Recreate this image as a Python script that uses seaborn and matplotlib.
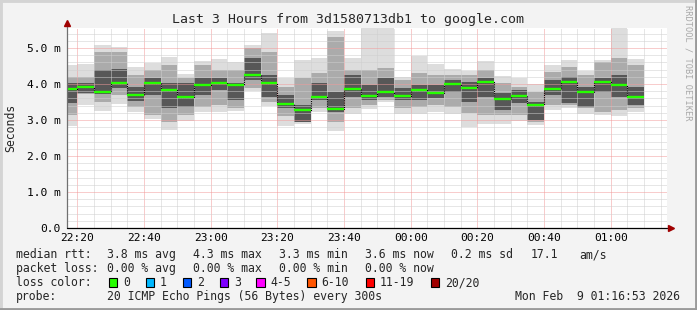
import numpy as np
import pandas as pd
import matplotlib
matplotlib.use("Agg")
import matplotlib.pyplot as plt
import matplotlib.dates as mdates
from matplotlib.lines import Line2D
from matplotlib.patches import Rectangle
import seaborn as sns

# ---- data ----
end_times = pd.date_range("2026-02-08 22:20", periods=35, freq="5min")
median = [3.87, 3.93, 3.78, 4.03, 3.69, 4.03, 3.84, 3.65, 3.97, 4.03,
          3.97, 4.25, 4.03, 3.45, 3.29, 3.64, 3.31, 3.87, 3.68, 3.78,
          3.68, 3.84, 3.75, 4.01, 3.90, 4.06, 3.58, 3.68, 3.42, 3.87,
          4.06, 3.79, 4.06, 3.97, 3.65]
rtt_max = [4.53, 4.56, 5.08, 5.03, 4.48, 4.59, 4.75, 4.27, 4.64, 4.69,
           4.60, 5.08, 5.42, 4.18, 4.67, 4.73, 5.48, 4.71, 5.60, 5.60,
           4.20, 4.79, 4.56, 4.43, 4.36, 4.64, 4.22, 4.16, 4.01, 4.53,
           4.67, 4.36, 4.67, 5.55, 4.69]
rtt_min = [2.84, 3.42, 3.25, 3.44, 3.21, 3.03, 2.72, 2.97, 3.21, 3.21,
           3.25, 3.81, 3.40, 2.84, 2.90, 3.21, 2.69, 3.18, 3.31, 3.51,
           3.16, 3.16, 3.23, 3.18, 2.81, 2.88, 2.90, 2.97, 2.86, 3.28,
           3.32, 3.18, 3.14, 3.12, 3.21]
mid_hi = [4.20, 4.20, 4.90, 4.90, 4.25, 4.39, 4.53, 4.16, 4.53, 4.39,
          4.39, 4.99, 4.90, 3.92, 4.16, 4.30, 5.30, 4.39, 4.39, 4.44,
          4.11, 4.30, 4.25, 4.25, 4.25, 4.39, 4.02, 3.92, 3.79, 4.34,
          4.48, 4.25, 4.62, 4.71, 4.53]
mid_lo = [3.14, 3.72, 3.50, 3.69, 3.37, 3.14, 2.95, 3.14, 3.37, 3.42,
          3.33, 3.88, 3.51, 3.10, 2.99, 3.33, 2.95, 3.33, 3.42, 3.55,
          3.33, 3.37, 3.42, 3.37, 3.19, 3.14, 3.14, 3.14, 2.95, 3.42,
          3.42, 3.33, 3.23, 3.28, 3.33]
core_hi = [4.02, 4.02, 4.39, 4.43, 3.93, 4.16, 4.02, 4.02, 4.16, 4.16,
           4.02, 4.71, 4.25, 3.69, 3.42, 4.02, 3.79, 4.25, 3.97, 4.16,
           3.88, 3.97, 3.97, 4.11, 4.06, 4.16, 3.74, 3.83, 3.51, 4.11,
           4.20, 3.92, 4.16, 4.25, 3.92]
core_lo = [3.47, 3.74, 3.72, 3.88, 3.53, 3.69, 3.33, 3.37, 3.69, 3.83,
           3.55, 4.11, 3.65, 3.33, 2.95, 3.55, 3.21, 3.65, 3.55, 3.65,
           3.55, 3.55, 3.60, 3.79, 3.51, 3.65, 3.28, 3.46, 2.99, 3.69,
           3.46, 3.37, 3.79, 3.65, 3.42]

y_ticks = [0, 1, 2, 3, 4, 5]
y_labels = ["0.0", "1.0 m", "2.0 m", "3.0 m", "4.0 m", "5.0 m"]

title = "Last 3 Hours from 3d1580713db1 to google.com"
loss_labels = ["0", "1", "2", "3", "4-5", "6-10", "11-19", "20/20"]
loss_colors = ["#26ff00", "#00b8ff", "#0059ff", "#7e00ff", "#ff00ff",
               "#ff5500", "#ff0000", "#a10000"]

# ---- style ----
sns.set_style("white")
plt.rcParams["font.family"] = ["DejaVu Sans Mono", "DejaVu Sans"]

W, H = 697, 310
fig = plt.figure(figsize=(W / 100, H / 100), dpi=100, facecolor="#f3f3f3")
ax = fig.add_axes([67 / W, 82 / H, 600 / W, 200 / H])
ax.set_facecolor("white")

starts = mdates.date2num(end_times - pd.Timedelta(minutes=5))
bw = 5 / 1440.0


def band(lo, hi, color):
    lo = np.asarray(lo)
    hi = np.asarray(hi)
    ax.bar(starts, hi - lo, bottom=lo, width=bw, align="edge",
           color=color, linewidth=0, antialiased=False, zorder=1)


band(rtt_min, rtt_max, "#dddddd")
band(mid_lo, mid_hi, "#ababab")
band(core_lo, core_hi, "#575757")

# step connector (dotted black) and green medians
sns.lineplot(x=starts, y=median, drawstyle="steps-post", color="black",
             linestyle=(0, (1, 1)), linewidth=0.8, estimator=None, ax=ax,
             zorder=2.5, legend=False)
ax.hlines(median, starts, starts + bw, color="#26ff00", linewidth=1.7,
          zorder=3)

# ---- axes ----
x0 = mdates.date2num(pd.Timestamp("2026-02-08 22:16:53"))
x1 = mdates.date2num(pd.Timestamp("2026-02-09 01:16:53"))
ax.set_xlim(x0, x1)
ax.set_ylim(0, 5.556)

ax.xaxis.set_major_locator(mdates.MinuteLocator(byminute=[0, 20, 40]))
ax.xaxis.set_minor_locator(mdates.MinuteLocator(byminute=range(0, 60, 5)))
ax.xaxis.set_major_formatter(mdates.DateFormatter("%H:%M"))
ax.set_yticks(y_ticks)
ax.set_yticklabels(y_labels)
ax.set_yticks(np.arange(0, 5.6, 0.2), minor=True)

ax.tick_params(axis="both", which="both", length=0, labelsize=8.1,
               colors="black")
ax.tick_params(axis="x", pad=3.6)
ax.tick_params(axis="y", pad=4.6)

ax.set_axisbelow("line")
ax.grid(which="minor", color="#cfcfcf", linestyle=(0, (1, 1)),
        linewidth=0.72)
ax.grid(which="major", color="#f29a9a", linestyle=(0, (1, 1)),
        linewidth=0.72)

for s in ax.spines.values():
    s.set_visible(False)

# axis lines with arrows
ax.plot([0, 0], [0, 1.03], transform=ax.transAxes, color="#707070",
        linewidth=0.9, clip_on=False, zorder=4)
ax.plot([0, 1.0], [0, 0], transform=ax.transAxes, color="black",
        linewidth=0.9, clip_on=False, zorder=4)
ax.plot([0], [1.025], transform=ax.transAxes, marker="^", markersize=3.8,
        color="#a00000", clip_on=False, zorder=5)
ax.plot([1.006], [0], transform=ax.transAxes, marker=">", markersize=3.8,
        color="#a00000", clip_on=False, zorder=5)

# ---- texts ----
def ftext(xpx, ypx, s, **kw):
    kw.setdefault("fontsize", 8.3)
    kw.setdefault("va", "baseline")
    fig.text(xpx / W, 1 - ypx / H, s, **kw)


ftext(348, 23, title, fontsize=9.5, ha="center")
ftext(11, 128, "Seconds", rotation=90, va="center", ha="center")
ftext(688, 5, "RRDTOOL / TOBI OETIKER", rotation=270, va="top",
      ha="center", fontsize=6.2, color="#a8a8a8")

ftext(16, 258, "median rtt:")
for xp, s in zip([107, 193, 279, 365, 451, 531, 579],
                 ["3.8 ms avg", "4.3 ms max", "3.3 ms min", "3.6 ms now",
                  "0.2 ms sd", "17.1", "am/s"]):
    ftext(xp, 258, s)

ftext(16, 272, "packet loss:")
for xp, s in zip([107, 193, 279, 365],
                 ["0.00 % avg", "0.00 % max", "0.00 % min", "0.00 % now"]):
    ftext(xp, 272, s)

ftext(16, 286, "loss color:")
box_x = [108.5, 145.5, 182.5, 219.5, 256, 307, 365.5, 430.5]
for bx, lab, col in zip(box_x, loss_labels, loss_colors):
    fig.patches.append(Rectangle((bx / W, 1 - 287 / H), 8.5 / W, 9 / H,
                                 transform=fig.transFigure, facecolor=col,
                                 edgecolor="black", linewidth=0.8))
    ftext(bx + 14.5, 286, lab)

ftext(16, 300, "probe:")
ftext(107, 300, "20 ICMP Echo Pings (56 Bytes) every 300s")
ftext(680, 300, "Mon Feb  9 01:16:53 2026", ha="right")

# frame
for (xa, ya, xb, yb, c) in [(0, 1, 1, 1, "#d4d4d4"), (0, 0, 0, 1, "#d4d4d4"),
                            (0, 0, 1, 0, "#9a9a9a"), (1, 0, 1, 1, "#9a9a9a")]:
    fig.add_artist(Line2D([xa, xb], [ya, yb], transform=fig.transFigure,
                          color=c, linewidth=3.5))

fig.savefig("out.png", dpi=100, facecolor=fig.get_facecolor())
